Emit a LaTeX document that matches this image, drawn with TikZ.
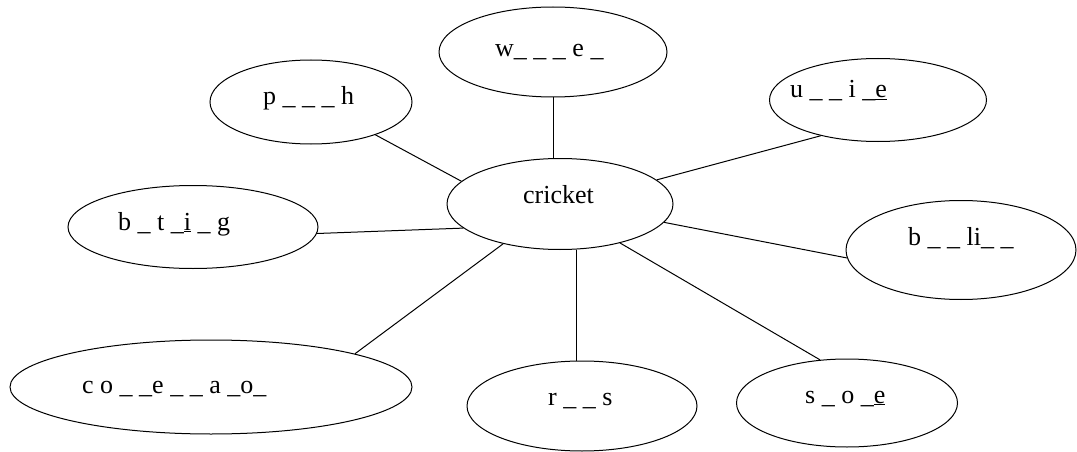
\documentclass[tikz,border=0pt]{standalone}
\usepackage{fontspec}
\setmainfont{Liberation Serif}
\usetikzlibrary{shapes.geometric}
\begin{document}
\begin{tikzpicture}[x=1pt,y=-1pt,
  bub/.style={draw,ellipse,line width=1pt,inner sep=0pt},
  lbl/.style={anchor=base west,inner sep=0pt,font=\fontsize{26}{30}\selectfont},
  link/.style={line width=1pt}]
\useasboundingbox (0,0) rectangle (1077,452);
% ellipses
\node[bub,minimum width=202pt,minimum height=84pt] (ph) at (311,102) {};
\node[bub,minimum width=228pt,minimum height=90pt] (w) at (553,52) {};
\node[bub,minimum width=217pt,minimum height=83pt] (u) at (878,100) {};
\node[bub,minimum width=250pt,minimum height=83pt] (btig) at (193,227) {};
\node[bub,minimum width=226pt,minimum height=91pt] (cricket) at (560,204) {};
\node[bub,minimum width=230pt,minimum height=99pt] (bli) at (961,250) {};
\node[bub,minimum width=402pt,minimum height=94pt] (co) at (211,387) {};
\node[bub,minimum width=230pt,minimum height=90pt] (rs) at (582,406) {};
\node[bub,minimum width=221pt,minimum height=88pt] (soe) at (847,403) {};
% labels
\node[lbl] (ph-t) at (263,105) {p \_ \_ \_ h};
\node[lbl] (w-t) at (495,57) {w\_ \_ \_ e \_};
\node[lbl] (u-t) at (790,98) {u \_ \_ i \_\underline{e}};
\node[lbl] (btig-t) at (118,230) {b \_ t \_\underline{i} \_ g};
\node[lbl] (cricket-t) at (523,203) {cricket};
\node[lbl] (bli-t) at (908,245) {b \_ \_ li\_ \_};
\node[lbl] (co-t) at (82,393) {c o \_ \_e \_ \_ a \_o\_};
\node[lbl] (rs-t) at (548,405) {r \_ \_ s};
\node[lbl] (soe-t) at (805,403) {s \_ o \_\underline{e}};
% connectors
\draw[link] (cricket.167) -- (ph.-27);
\draw[link] (w.south) -- (w.south |- cricket.north);
\draw[link] (cricket.14) -- (u.212);
\draw[link] (cricket.194) -- (btig.-3.5);
\draw[link] (cricket.-10.3) -- (bli.184.5);
\draw[link] (cricket.215.3) -- (co.13.7);
\draw[link] (cricket.-70) -- (cricket.-70 |- rs.north);
\draw[link] (cricket.-33.9) -- (soe.122.7);
\end{tikzpicture}
\end{document}
